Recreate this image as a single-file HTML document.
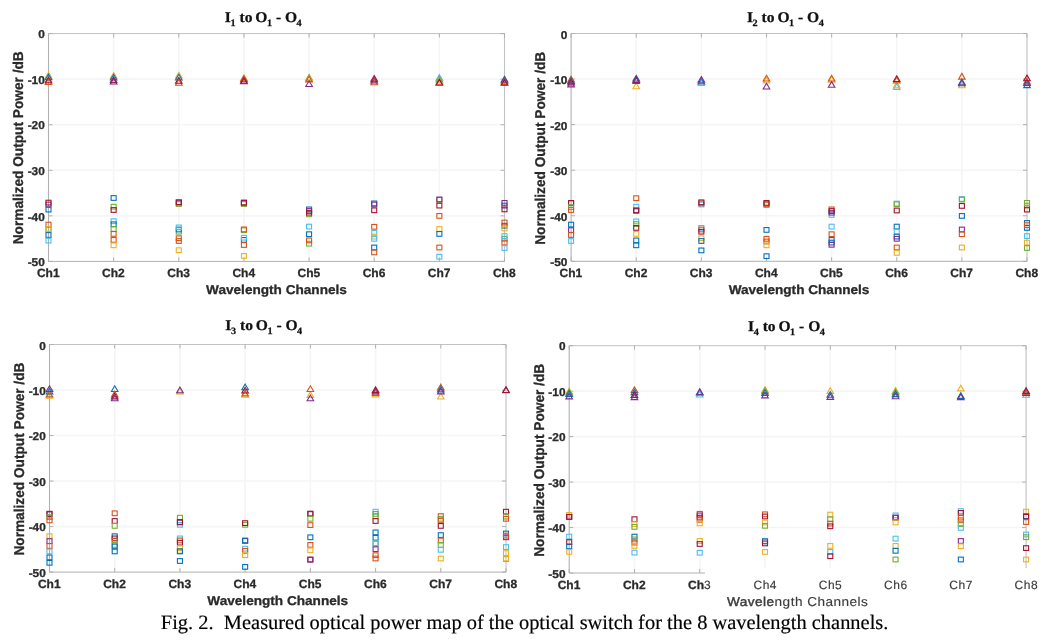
<!DOCTYPE html>
<html lang="en"><head><meta charset="utf-8"><title>Fig. 2</title>
<style>html,body{margin:0;padding:0;background:#fff;}body{width:1054px;height:643px;overflow:hidden;}svg{display:block;}.fig{filter:blur(0.45px);}text{text-rendering:geometricPrecision;}.s{font-family:"Liberation Sans",sans-serif;font-weight:bold;fill:#2a2a2a;stroke:#2a2a2a;stroke-width:0.3;}.n{font-family:"Liberation Sans",sans-serif;font-weight:normal;fill:#3c3c3c;stroke:#3c3c3c;stroke-width:0.15;}.t{font-family:"Liberation Serif",serif;font-weight:bold;fill:#111;stroke:#111;stroke-width:0.25;}.c{font-family:"Liberation Serif",serif;fill:#000;stroke:#000;stroke-width:0.18;}.m{fill:none;stroke-width:1.1;}</style></head><body>
<svg width="1054" height="643" viewBox="0 0 1054 643">
<rect width="1054" height="643" fill="#fff"/>
<g class="fig">
<g>
<path d="M48.5 33.6V261.4M113.64 33.6V261.4M178.79 33.6V261.4M243.93 33.6V261.4M309.07 33.6V261.4M374.21 33.6V261.4M439.36 33.6V261.4M504.5 33.6V261.4M48.5 79.16H504.5M48.5 124.72H504.5M48.5 170.28H504.5M48.5 215.84H504.5" stroke="#f5f5f5" stroke-width="1.6" fill="none"/>
<path d="M48.5 33.6H504.5V261.4" fill="none" stroke="#c2c2c2" stroke-width="1"/>
<path d="M48.5 33.6V261.4H504.5" fill="none" stroke="#b0b0b0" stroke-width="1"/>
<path d="M48.5 261.4v-4M48.5 33.6v4M113.64 261.4v-4M113.64 33.6v4M178.79 261.4v-4M178.79 33.6v4M243.93 261.4v-4M243.93 33.6v4M309.07 261.4v-4M309.07 33.6v4M374.21 261.4v-4M374.21 33.6v4M439.36 261.4v-4M439.36 33.6v4M504.5 261.4v-4M504.5 33.6v4M48.5 33.6h4M504.5 33.6h-4M48.5 79.16h4M504.5 79.16h-4M48.5 124.72h4M504.5 124.72h-4M48.5 170.28h4M504.5 170.28h-4M48.5 215.84h4M504.5 215.84h-4M48.5 261.4h4M504.5 261.4h-4" stroke="#b0b0b0" stroke-width="1" fill="none"/>
<text class="s" font-size="11.3" text-anchor="end" transform="translate(44.8 38) scale(1.05 1)">0</text>
<text class="s" font-size="11.3" text-anchor="end" transform="translate(44.8 84) scale(1.05 1)">-10</text>
<text class="s" font-size="11.3" text-anchor="end" transform="translate(44.8 129) scale(1.05 1)">-20</text>
<text class="s" font-size="11.3" text-anchor="end" transform="translate(44.8 175) scale(1.05 1)">-30</text>
<text class="s" font-size="11.3" text-anchor="end" transform="translate(44.8 221) scale(1.05 1)">-40</text>
<text class="s" font-size="11.3" text-anchor="end" transform="translate(44.8 266) scale(1.05 1)">-50</text>
<text class="s" x="48.3" y="277" font-size="12" text-anchor="middle">Ch1</text>
<text class="s" x="113.44" y="277" font-size="12" text-anchor="middle">Ch2</text>
<text class="s" x="178.59" y="277" font-size="12" text-anchor="middle">Ch3</text>
<text class="s" x="243.73" y="277" font-size="12" text-anchor="middle">Ch4</text>
<text class="s" x="308.87" y="277" font-size="12" text-anchor="middle">Ch5</text>
<text class="s" x="374.01" y="277" font-size="12" text-anchor="middle">Ch6</text>
<text class="s" x="439.16" y="277" font-size="12" text-anchor="middle">Ch7</text>
<text class="s" x="504.3" y="277" font-size="12" text-anchor="middle">Ch8</text>
<text class="s" font-size="12.8" text-anchor="middle" transform="translate(276.5 294) scale(1.0625 1)">Wavelength Channels</text>
<text class="s" font-size="14.2" text-anchor="middle" transform="translate(23 147.8) rotate(-90) scale(0.964 1)">Normalized Output Power /dB</text>
<text class="t" font-size="14.8" transform="translate(224.8 22) scale(1.054 1)">I<tspan font-size="9.7" dy="3.5" dx="-0.4">1</tspan><tspan dy="-3.5"> to</tspan><tspan dx="-1"> O</tspan><tspan font-size="9.7" dy="3.5" dx="-0.5">1</tspan><tspan dy="-3.5"> - O</tspan><tspan font-size="9.7" dy="3.5" dx="-0.5">4</tspan></text>
<rect class="m" x="46" y="202.15" width="5" height="4.7" stroke="#7E2F8E"/>
<rect class="m" x="46" y="200.25" width="5" height="4.7" stroke="#A2142F"/>
<rect class="m" x="46" y="207.25" width="5" height="4.7" stroke="#0072BD"/>
<rect class="m" x="46" y="222.25" width="5" height="4.7" stroke="#D95319"/>
<rect class="m" x="46" y="227.15" width="5" height="4.7" stroke="#77AC30"/>
<rect class="m" x="46" y="226.65" width="5" height="4.7" stroke="#EDB120"/>
<rect class="m" x="46" y="232.65" width="5" height="4.7" stroke="#0072BD"/>
<rect class="m" x="46" y="238.25" width="5" height="4.7" stroke="#4DBEEE"/>
<rect class="m" x="111.14" y="195.65" width="5" height="4.7" stroke="#0072BD"/>
<rect class="m" x="111.14" y="204.35" width="5" height="4.7" stroke="#77AC30"/>
<rect class="m" x="111.14" y="207.65" width="5" height="4.7" stroke="#A2142F"/>
<rect class="m" x="111.14" y="218.85" width="5" height="4.7" stroke="#4DBEEE"/>
<rect class="m" x="111.14" y="221.95" width="5" height="4.7" stroke="#0072BD"/>
<rect class="m" x="111.14" y="226.65" width="5" height="4.7" stroke="#77AC30"/>
<rect class="m" x="111.14" y="231.55" width="5" height="4.7" stroke="#D95319"/>
<rect class="m" x="111.14" y="237.55" width="5" height="4.7" stroke="#D95319"/>
<rect class="m" x="111.14" y="242.95" width="5" height="4.7" stroke="#EDB120"/>
<rect class="m" x="176.29" y="201.65" width="5" height="4.7" stroke="#77AC30"/>
<rect class="m" x="176.29" y="200.25" width="5" height="4.7" stroke="#7E2F8E"/>
<rect class="m" x="176.29" y="199.85" width="5" height="4.7" stroke="#A2142F"/>
<rect class="m" x="176.29" y="229.35" width="5" height="4.7" stroke="#77AC30"/>
<rect class="m" x="176.29" y="227.15" width="5" height="4.7" stroke="#0072BD"/>
<rect class="m" x="176.29" y="225.05" width="5" height="4.7" stroke="#4DBEEE"/>
<rect class="m" x="176.29" y="235.85" width="5" height="4.7" stroke="#D95319"/>
<rect class="m" x="176.29" y="238.65" width="5" height="4.7" stroke="#D95319"/>
<rect class="m" x="176.29" y="247.85" width="5" height="4.7" stroke="#EDB120"/>
<rect class="m" x="241.43" y="201.65" width="5" height="4.7" stroke="#77AC30"/>
<rect class="m" x="241.43" y="200.55" width="5" height="4.7" stroke="#7E2F8E"/>
<rect class="m" x="241.43" y="200.15" width="5" height="4.7" stroke="#A2142F"/>
<rect class="m" x="241.43" y="227.85" width="5" height="4.7" stroke="#77AC30"/>
<rect class="m" x="241.43" y="227.05" width="5" height="4.7" stroke="#D95319"/>
<rect class="m" x="241.43" y="237.55" width="5" height="4.7" stroke="#0072BD"/>
<rect class="m" x="241.43" y="235.35" width="5" height="4.7" stroke="#4DBEEE"/>
<rect class="m" x="241.43" y="242.65" width="5" height="4.7" stroke="#D95319"/>
<rect class="m" x="241.43" y="253.55" width="5" height="4.7" stroke="#EDB120"/>
<rect class="m" x="306.57" y="211.95" width="5" height="4.7" stroke="#77AC30"/>
<rect class="m" x="306.57" y="207.05" width="5" height="4.7" stroke="#0072BD"/>
<rect class="m" x="306.57" y="208.65" width="5" height="4.7" stroke="#7E2F8E"/>
<rect class="m" x="306.57" y="210.35" width="5" height="4.7" stroke="#A2142F"/>
<rect class="m" x="306.57" y="224.25" width="5" height="4.7" stroke="#4DBEEE"/>
<rect class="m" x="306.57" y="231.85" width="5" height="4.7" stroke="#0072BD"/>
<rect class="m" x="306.57" y="241.35" width="5" height="4.7" stroke="#77AC30"/>
<rect class="m" x="306.57" y="238.05" width="5" height="4.7" stroke="#D95319"/>
<rect class="m" x="371.71" y="201.05" width="5" height="4.7" stroke="#0072BD"/>
<rect class="m" x="371.71" y="202.15" width="5" height="4.7" stroke="#7E2F8E"/>
<rect class="m" x="371.71" y="207.95" width="5" height="4.7" stroke="#A2142F"/>
<rect class="m" x="371.71" y="224.45" width="5" height="4.7" stroke="#D95319"/>
<rect class="m" x="371.71" y="230.45" width="5" height="4.7" stroke="#4DBEEE"/>
<rect class="m" x="371.71" y="234.25" width="5" height="4.7" stroke="#EDB120"/>
<rect class="m" x="371.71" y="236.45" width="5" height="4.7" stroke="#4DBEEE"/>
<rect class="m" x="371.71" y="245.15" width="5" height="4.7" stroke="#0072BD"/>
<rect class="m" x="371.71" y="250.05" width="5" height="4.7" stroke="#D95319"/>
<rect class="m" x="436.86" y="197.55" width="5" height="4.7" stroke="#77AC30"/>
<rect class="m" x="436.86" y="197.05" width="5" height="4.7" stroke="#7E2F8E"/>
<rect class="m" x="436.86" y="203.25" width="5" height="4.7" stroke="#A2142F"/>
<rect class="m" x="436.86" y="213.55" width="5" height="4.7" stroke="#D95319"/>
<rect class="m" x="436.86" y="226.65" width="5" height="4.7" stroke="#EDB120"/>
<rect class="m" x="436.86" y="231.55" width="5" height="4.7" stroke="#0072BD"/>
<rect class="m" x="436.86" y="245.15" width="5" height="4.7" stroke="#D95319"/>
<rect class="m" x="436.86" y="254.35" width="5" height="4.7" stroke="#4DBEEE"/>
<rect class="m" x="502" y="203.25" width="5" height="4.7" stroke="#0072BD"/>
<rect class="m" x="502" y="200.55" width="5" height="4.7" stroke="#7E2F8E"/>
<rect class="m" x="502" y="207.05" width="5" height="4.7" stroke="#A2142F"/>
<rect class="m" x="502" y="223.35" width="5" height="4.7" stroke="#0072BD"/>
<rect class="m" x="502" y="226.15" width="5" height="4.7" stroke="#EDB120"/>
<rect class="m" x="502" y="220.15" width="5" height="4.7" stroke="#D95319"/>
<rect class="m" x="502" y="236.45" width="5" height="4.7" stroke="#77AC30"/>
<rect class="m" x="502" y="233.75" width="5" height="4.7" stroke="#4DBEEE"/>
<rect class="m" x="502" y="240.25" width="5" height="4.7" stroke="#D95319"/>
<rect class="m" x="502" y="245.65" width="5" height="4.7" stroke="#4DBEEE"/>
<path class="m" d="M48.5 72.3L51.8 78H45.2Z" stroke="#EDB120"/>
<path class="m" d="M48.5 74.1L51.8 79.8H45.2Z" stroke="#0072BD"/>
<path class="m" d="M48.5 78.7L51.8 84.4H45.2Z" stroke="#D95319"/>
<path class="m" d="M48.5 77L51.8 82.7H45.2Z" stroke="#A2142F"/>
<path class="m" d="M113.64 72.5L116.94 78.2H110.34Z" stroke="#EDB120"/>
<path class="m" d="M113.64 74.3L116.94 80H110.34Z" stroke="#0072BD"/>
<path class="m" d="M113.64 76.7L116.94 82.4H110.34Z" stroke="#7E2F8E"/>
<path class="m" d="M113.64 78.3L116.94 84H110.34Z" stroke="#A2142F"/>
<path class="m" d="M178.79 72.3L182.09 78H175.49Z" stroke="#EDB120"/>
<path class="m" d="M178.79 74.3L182.09 80H175.49Z" stroke="#0072BD"/>
<path class="m" d="M178.79 79.5L182.09 85.2H175.49Z" stroke="#D95319"/>
<path class="m" d="M178.79 77.5L182.09 83.2H175.49Z" stroke="#A2142F"/>
<path class="m" d="M243.93 74.8L247.23 80.5H240.63Z" stroke="#EDB120"/>
<path class="m" d="M243.93 75.7L247.23 81.4H240.63Z" stroke="#D95319"/>
<path class="m" d="M243.93 77.3L247.23 83H240.63Z" stroke="#7E2F8E"/>
<path class="m" d="M243.93 78.1L247.23 83.8H240.63Z" stroke="#A2142F"/>
<path class="m" d="M309.07 74.4L312.37 80.1H305.77Z" stroke="#77AC30"/>
<path class="m" d="M309.07 75.4L312.37 81.1H305.77Z" stroke="#EDB120"/>
<path class="m" d="M309.07 76.2L312.37 81.9H305.77Z" stroke="#D95319"/>
<path class="m" d="M309.07 80.8L312.37 86.5H305.77Z" stroke="#7E2F8E"/>
<path class="m" d="M374.21 79.1L377.51 84.8H370.91Z" stroke="#D95319"/>
<path class="m" d="M374.21 77.2L377.51 82.9H370.91Z" stroke="#7E2F8E"/>
<path class="m" d="M374.21 75.5L377.51 81.2H370.91Z" stroke="#A2142F"/>
<path class="m" d="M439.36 74.6L442.66 80.3H436.06Z" stroke="#4DBEEE"/>
<path class="m" d="M439.36 76.3L442.66 82H436.06Z" stroke="#77AC30"/>
<path class="m" d="M439.36 78.5L442.66 84.2H436.06Z" stroke="#D95319"/>
<path class="m" d="M439.36 79.6L442.66 85.3H436.06Z" stroke="#A2142F"/>
<path class="m" d="M504.5 76.3L507.8 82H501.2Z" stroke="#0072BD"/>
<path class="m" d="M504.5 77.3L507.8 83H501.2Z" stroke="#7E2F8E"/>
<path class="m" d="M504.5 78.9L507.8 84.6H501.2Z" stroke="#D95319"/>
<path class="m" d="M504.5 79.6L507.8 85.3H501.2Z" stroke="#A2142F"/>
</g>
<g>
<path d="M571.1 33.5V261.3M636.23 33.5V261.3M701.36 33.5V261.3M766.49 33.5V261.3M831.61 33.5V261.3M896.74 33.5V261.3M961.87 33.5V261.3M1027 33.5V261.3M571.1 79.06H1027M571.1 124.62H1027M571.1 170.18H1027M571.1 215.74H1027" stroke="#f5f5f5" stroke-width="1.6" fill="none"/>
<path d="M571.1 33.5H1027V261.3" fill="none" stroke="#c2c2c2" stroke-width="1"/>
<path d="M571.1 33.5V261.3H1027" fill="none" stroke="#b0b0b0" stroke-width="1"/>
<path d="M571.1 261.3v-4M571.1 33.5v4M636.23 261.3v-4M636.23 33.5v4M701.36 261.3v-4M701.36 33.5v4M766.49 261.3v-4M766.49 33.5v4M831.61 261.3v-4M831.61 33.5v4M896.74 261.3v-4M896.74 33.5v4M961.87 261.3v-4M961.87 33.5v4M1027 261.3v-4M1027 33.5v4M571.1 33.5h4M1027 33.5h-4M571.1 79.06h4M1027 79.06h-4M571.1 124.62h4M1027 124.62h-4M571.1 170.18h4M1027 170.18h-4M571.1 215.74h4M1027 215.74h-4M571.1 261.3h4M1027 261.3h-4" stroke="#b0b0b0" stroke-width="1" fill="none"/>
<text class="s" font-size="11.3" text-anchor="end" transform="translate(567.4 39) scale(1.05 1)">0</text>
<text class="s" font-size="11.3" text-anchor="end" transform="translate(567.4 84) scale(1.05 1)">-10</text>
<text class="s" font-size="11.3" text-anchor="end" transform="translate(567.4 130) scale(1.05 1)">-20</text>
<text class="s" font-size="11.3" text-anchor="end" transform="translate(567.4 175) scale(1.05 1)">-30</text>
<text class="s" font-size="11.3" text-anchor="end" transform="translate(567.4 221) scale(1.05 1)">-40</text>
<text class="s" font-size="11.3" text-anchor="end" transform="translate(567.4 266) scale(1.05 1)">-50</text>
<text class="s" x="570.9" y="277" font-size="12" text-anchor="middle">Ch1</text>
<text class="s" x="636.03" y="277" font-size="12" text-anchor="middle">Ch2</text>
<text class="s" x="701.16" y="277" font-size="12" text-anchor="middle">Ch3</text>
<text class="s" x="766.29" y="277" font-size="12" text-anchor="middle">Ch4</text>
<text class="s" x="831.41" y="277" font-size="12" text-anchor="middle">Ch5</text>
<text class="s" x="896.54" y="277" font-size="12" text-anchor="middle">Ch6</text>
<text class="s" x="961.67" y="277" font-size="12" text-anchor="middle">Ch7</text>
<text class="s" x="1026.8" y="277" font-size="12" text-anchor="middle">Ch8</text>
<text class="s" font-size="12.8" text-anchor="middle" transform="translate(799.05 294) scale(1.0625 1)">Wavelength Channels</text>
<text class="s" font-size="14.2" text-anchor="middle" transform="translate(545 148.3) rotate(-90) scale(0.964 1)">Normalized Output Power /dB</text>
<text class="t" font-size="14.8" transform="translate(746.9 22) scale(1.054 1)">I<tspan font-size="9.7" dy="3.5" dx="-0.4">2</tspan><tspan dy="-3.5"> to</tspan><tspan dx="-1"> O</tspan><tspan font-size="9.7" dy="3.5" dx="-0.5">1</tspan><tspan dy="-3.5"> - O</tspan><tspan font-size="9.7" dy="3.5" dx="-0.5">4</tspan></text>
<rect class="m" x="568.6" y="201.05" width="5" height="4.7" stroke="#4DBEEE"/>
<rect class="m" x="568.6" y="200.55" width="5" height="4.7" stroke="#A2142F"/>
<rect class="m" x="568.6" y="204.85" width="5" height="4.7" stroke="#77AC30"/>
<rect class="m" x="568.6" y="207.65" width="5" height="4.7" stroke="#D95319"/>
<rect class="m" x="568.6" y="222.25" width="5" height="4.7" stroke="#0072BD"/>
<rect class="m" x="568.6" y="227.75" width="5" height="4.7" stroke="#7E2F8E"/>
<rect class="m" x="568.6" y="232.65" width="5" height="4.7" stroke="#D95319"/>
<rect class="m" x="568.6" y="238.65" width="5" height="4.7" stroke="#4DBEEE"/>
<rect class="m" x="633.73" y="195.85" width="5" height="4.7" stroke="#D95319"/>
<rect class="m" x="633.73" y="204.35" width="5" height="4.7" stroke="#4DBEEE"/>
<rect class="m" x="633.73" y="208.45" width="5" height="4.7" stroke="#7E2F8E"/>
<rect class="m" x="633.73" y="207.95" width="5" height="4.7" stroke="#A2142F"/>
<rect class="m" x="633.73" y="219.05" width="5" height="4.7" stroke="#4DBEEE"/>
<rect class="m" x="633.73" y="221.75" width="5" height="4.7" stroke="#77AC30"/>
<rect class="m" x="633.73" y="225.55" width="5" height="4.7" stroke="#A2142F"/>
<rect class="m" x="633.73" y="231.55" width="5" height="4.7" stroke="#EDB120"/>
<rect class="m" x="633.73" y="238.05" width="5" height="4.7" stroke="#0072BD"/>
<rect class="m" x="633.73" y="242.95" width="5" height="4.7" stroke="#0072BD"/>
<rect class="m" x="698.86" y="202.15" width="5" height="4.7" stroke="#4DBEEE"/>
<rect class="m" x="698.86" y="201.05" width="5" height="4.7" stroke="#D95319"/>
<rect class="m" x="698.86" y="199.95" width="5" height="4.7" stroke="#A2142F"/>
<rect class="m" x="698.86" y="225.55" width="5" height="4.7" stroke="#4DBEEE"/>
<rect class="m" x="698.86" y="227.15" width="5" height="4.7" stroke="#D95319"/>
<rect class="m" x="698.86" y="229.35" width="5" height="4.7" stroke="#A2142F"/>
<rect class="m" x="698.86" y="235.85" width="5" height="4.7" stroke="#EDB120"/>
<rect class="m" x="698.86" y="238.65" width="5" height="4.7" stroke="#0072BD"/>
<rect class="m" x="698.86" y="248.05" width="5" height="4.7" stroke="#0072BD"/>
<rect class="m" x="763.99" y="202.65" width="5" height="4.7" stroke="#77AC30"/>
<rect class="m" x="763.99" y="201.65" width="5" height="4.7" stroke="#D95319"/>
<rect class="m" x="763.99" y="200.55" width="5" height="4.7" stroke="#A2142F"/>
<rect class="m" x="763.99" y="227.55" width="5" height="4.7" stroke="#0072BD"/>
<rect class="m" x="763.99" y="236.45" width="5" height="4.7" stroke="#D95319"/>
<rect class="m" x="763.99" y="239.15" width="5" height="4.7" stroke="#D95319"/>
<rect class="m" x="763.99" y="242.95" width="5" height="4.7" stroke="#EDB120"/>
<rect class="m" x="763.99" y="253.85" width="5" height="4.7" stroke="#0072BD"/>
<rect class="m" x="829.11" y="212.55" width="5" height="4.7" stroke="#4DBEEE"/>
<rect class="m" x="829.11" y="207.05" width="5" height="4.7" stroke="#D95319"/>
<rect class="m" x="829.11" y="210.35" width="5" height="4.7" stroke="#7E2F8E"/>
<rect class="m" x="829.11" y="208.65" width="5" height="4.7" stroke="#A2142F"/>
<rect class="m" x="829.11" y="224.25" width="5" height="4.7" stroke="#4DBEEE"/>
<rect class="m" x="829.11" y="231.85" width="5" height="4.7" stroke="#D95319"/>
<rect class="m" x="829.11" y="237.55" width="5" height="4.7" stroke="#0072BD"/>
<rect class="m" x="829.11" y="240.25" width="5" height="4.7" stroke="#0072BD"/>
<rect class="m" x="829.11" y="242.45" width="5" height="4.7" stroke="#7E2F8E"/>
<rect class="m" x="894.24" y="201.25" width="5" height="4.7" stroke="#4DBEEE"/>
<rect class="m" x="894.24" y="201.85" width="5" height="4.7" stroke="#77AC30"/>
<rect class="m" x="894.24" y="208.15" width="5" height="4.7" stroke="#A2142F"/>
<rect class="m" x="894.24" y="224.25" width="5" height="4.7" stroke="#0072BD"/>
<rect class="m" x="894.24" y="229.35" width="5" height="4.7" stroke="#4DBEEE"/>
<rect class="m" x="894.24" y="234.25" width="5" height="4.7" stroke="#0072BD"/>
<rect class="m" x="894.24" y="236.45" width="5" height="4.7" stroke="#7E2F8E"/>
<rect class="m" x="894.24" y="245.15" width="5" height="4.7" stroke="#D95319"/>
<rect class="m" x="894.24" y="250.55" width="5" height="4.7" stroke="#EDB120"/>
<rect class="m" x="959.37" y="196.65" width="5" height="4.7" stroke="#4DBEEE"/>
<rect class="m" x="959.37" y="197.25" width="5" height="4.7" stroke="#77AC30"/>
<rect class="m" x="959.37" y="203.55" width="5" height="4.7" stroke="#A2142F"/>
<rect class="m" x="959.37" y="213.55" width="5" height="4.7" stroke="#0072BD"/>
<rect class="m" x="959.37" y="227.15" width="5" height="4.7" stroke="#7E2F8E"/>
<rect class="m" x="959.37" y="231.85" width="5" height="4.7" stroke="#D95319"/>
<rect class="m" x="959.37" y="245.15" width="5" height="4.7" stroke="#EDB120"/>
<rect class="m" x="1024.5" y="200.55" width="5" height="4.7" stroke="#77AC30"/>
<rect class="m" x="1024.5" y="203.25" width="5" height="4.7" stroke="#77AC30"/>
<rect class="m" x="1024.5" y="207.25" width="5" height="4.7" stroke="#A2142F"/>
<rect class="m" x="1024.5" y="220.65" width="5" height="4.7" stroke="#0072BD"/>
<rect class="m" x="1024.5" y="225.55" width="5" height="4.7" stroke="#0072BD"/>
<rect class="m" x="1024.5" y="222.85" width="5" height="4.7" stroke="#D95319"/>
<rect class="m" x="1024.5" y="233.75" width="5" height="4.7" stroke="#4DBEEE"/>
<rect class="m" x="1024.5" y="240.25" width="5" height="4.7" stroke="#EDB120"/>
<rect class="m" x="1024.5" y="245.65" width="5" height="4.7" stroke="#77AC30"/>
<path class="m" d="M571.1 76.2L574.4 81.9H567.8Z" stroke="#D95319"/>
<path class="m" d="M571.1 77.7L574.4 83.4H567.8Z" stroke="#0072BD"/>
<path class="m" d="M571.1 79.2L574.4 84.9H567.8Z" stroke="#A2142F"/>
<path class="m" d="M571.1 81.2L574.4 86.9H567.8Z" stroke="#7E2F8E"/>
<path class="m" d="M636.23 83L639.53 88.7H632.93Z" stroke="#EDB120"/>
<path class="m" d="M636.23 75.3L639.53 81H632.93Z" stroke="#0072BD"/>
<path class="m" d="M636.23 76.7L639.53 82.4H632.93Z" stroke="#A2142F"/>
<path class="m" d="M636.23 77.7L639.53 83.4H632.93Z" stroke="#7E2F8E"/>
<path class="m" d="M701.36 79.8L704.66 85.5H698.06Z" stroke="#4DBEEE"/>
<path class="m" d="M701.36 78.2L704.66 83.9H698.06Z" stroke="#0072BD"/>
<path class="m" d="M701.36 76.5L704.66 82.2H698.06Z" stroke="#7E2F8E"/>
<path class="m" d="M766.49 77.2L769.79 82.9H763.19Z" stroke="#EDB120"/>
<path class="m" d="M766.49 75.3L769.79 81H763.19Z" stroke="#D95319"/>
<path class="m" d="M766.49 83.3L769.79 89H763.19Z" stroke="#7E2F8E"/>
<path class="m" d="M831.61 76.5L834.91 82.2H828.31Z" stroke="#EDB120"/>
<path class="m" d="M831.61 75.3L834.91 81H828.31Z" stroke="#D95319"/>
<path class="m" d="M831.61 81.6L834.91 87.3H828.31Z" stroke="#7E2F8E"/>
<path class="m" d="M896.74 83.7L900.04 89.4H893.44Z" stroke="#4DBEEE"/>
<path class="m" d="M896.74 82.1L900.04 87.8H893.44Z" stroke="#EDB120"/>
<path class="m" d="M896.74 77.2L900.04 82.9H893.44Z" stroke="#D95319"/>
<path class="m" d="M896.74 75.8L900.04 81.5H893.44Z" stroke="#A2142F"/>
<path class="m" d="M961.87 82.1L965.17 87.8H958.57Z" stroke="#EDB120"/>
<path class="m" d="M961.87 73.4L965.17 79.1H958.57Z" stroke="#D95319"/>
<path class="m" d="M961.87 79L965.17 84.7H958.57Z" stroke="#0072BD"/>
<path class="m" d="M961.87 80L965.17 85.7H958.57Z" stroke="#7E2F8E"/>
<path class="m" d="M1027 81.9L1030.3 87.6H1023.7Z" stroke="#0072BD"/>
<path class="m" d="M1027 78.2L1030.3 83.9H1023.7Z" stroke="#D95319"/>
<path class="m" d="M1027 79.7L1030.3 85.4H1023.7Z" stroke="#7E2F8E"/>
<path class="m" d="M1027 75.1L1030.3 80.8H1023.7Z" stroke="#A2142F"/>
</g>
<g>
<path d="M49.5 344.5V572.1M114.71 344.5V572.1M179.93 344.5V572.1M245.14 344.5V572.1M310.36 344.5V572.1M375.57 344.5V572.1M440.79 344.5V572.1M506 344.5V572.1M49.5 390.02H506M49.5 435.54H506M49.5 481.06H506M49.5 526.58H506" stroke="#f5f5f5" stroke-width="1.6" fill="none"/>
<path d="M49.5 344.5H506V572.1" fill="none" stroke="#c2c2c2" stroke-width="1"/>
<path d="M49.5 344.5V572.1H506" fill="none" stroke="#b0b0b0" stroke-width="1"/>
<path d="M49.5 572.1v-4M49.5 344.5v4M114.71 572.1v-4M114.71 344.5v4M179.93 572.1v-4M179.93 344.5v4M245.14 572.1v-4M245.14 344.5v4M310.36 572.1v-4M310.36 344.5v4M375.57 572.1v-4M375.57 344.5v4M440.79 572.1v-4M440.79 344.5v4M506 572.1v-4M506 344.5v4M49.5 344.5h4M506 344.5h-4M49.5 390.02h4M506 390.02h-4M49.5 435.54h4M506 435.54h-4M49.5 481.06h4M506 481.06h-4M49.5 526.58h4M506 526.58h-4M49.5 572.1h4M506 572.1h-4" stroke="#b0b0b0" stroke-width="1" fill="none"/>
<text class="s" font-size="11.3" text-anchor="end" transform="translate(45.8 350) scale(1.05 1)">0</text>
<text class="s" font-size="11.3" text-anchor="end" transform="translate(45.8 395) scale(1.05 1)">-10</text>
<text class="s" font-size="11.3" text-anchor="end" transform="translate(45.8 440) scale(1.05 1)">-20</text>
<text class="s" font-size="11.3" text-anchor="end" transform="translate(45.8 486) scale(1.05 1)">-30</text>
<text class="s" font-size="11.3" text-anchor="end" transform="translate(45.8 531) scale(1.05 1)">-40</text>
<text class="s" font-size="11.3" text-anchor="end" transform="translate(45.8 577) scale(1.05 1)">-50</text>
<text class="s" x="49.3" y="588" font-size="12" text-anchor="middle">Ch1</text>
<text class="s" x="114.51" y="588" font-size="12" text-anchor="middle">Ch2</text>
<text class="s" x="179.73" y="588" font-size="12" text-anchor="middle">Ch3</text>
<text class="s" x="244.94" y="588" font-size="12" text-anchor="middle">Ch4</text>
<text class="s" x="310.16" y="588" font-size="12" text-anchor="middle">Ch5</text>
<text class="s" x="375.37" y="588" font-size="12" text-anchor="middle">Ch6</text>
<text class="s" x="440.59" y="588" font-size="12" text-anchor="middle">Ch7</text>
<text class="s" x="505.8" y="588" font-size="12" text-anchor="middle">Ch8</text>
<text class="s" font-size="12.8" text-anchor="middle" transform="translate(277.75 605) scale(1.0625 1)">Wavelength Channels</text>
<text class="s" font-size="14.2" text-anchor="middle" transform="translate(23.7 459.1) rotate(-90) scale(0.964 1)">Normalized Output Power /dB</text>
<text class="t" font-size="14.8" transform="translate(225.3 330) scale(1.054 1)">I<tspan font-size="9.7" dy="3.5" dx="-0.4">3</tspan><tspan dy="-3.5"> to</tspan><tspan dx="-1"> O</tspan><tspan font-size="9.7" dy="3.5" dx="-0.5">1</tspan><tspan dy="-3.5"> - O</tspan><tspan font-size="9.7" dy="3.5" dx="-0.5">4</tspan></text>
<rect class="m" x="47" y="511.85" width="5" height="4.7" stroke="#7E2F8E"/>
<rect class="m" x="47" y="511.35" width="5" height="4.7" stroke="#A2142F"/>
<rect class="m" x="47" y="514.75" width="5" height="4.7" stroke="#77AC30"/>
<rect class="m" x="47" y="518.05" width="5" height="4.7" stroke="#D95319"/>
<rect class="m" x="47" y="533.85" width="5" height="4.7" stroke="#EDB120"/>
<rect class="m" x="47" y="538.75" width="5" height="4.7" stroke="#7E2F8E"/>
<rect class="m" x="47" y="543.65" width="5" height="4.7" stroke="#D95319"/>
<rect class="m" x="47" y="549.05" width="5" height="4.7" stroke="#4DBEEE"/>
<rect class="m" x="47" y="555.05" width="5" height="4.7" stroke="#0072BD"/>
<rect class="m" x="47" y="560.45" width="5" height="4.7" stroke="#0072BD"/>
<rect class="m" x="112.21" y="510.95" width="5" height="4.7" stroke="#D95319"/>
<rect class="m" x="112.21" y="518.65" width="5" height="4.7" stroke="#A2142F"/>
<rect class="m" x="112.21" y="523.55" width="5" height="4.7" stroke="#77AC30"/>
<rect class="m" x="112.21" y="533.85" width="5" height="4.7" stroke="#0072BD"/>
<rect class="m" x="112.21" y="536.05" width="5" height="4.7" stroke="#A2142F"/>
<rect class="m" x="112.21" y="538.15" width="5" height="4.7" stroke="#D95319"/>
<rect class="m" x="112.21" y="542.55" width="5" height="4.7" stroke="#77AC30"/>
<rect class="m" x="112.21" y="544.15" width="5" height="4.7" stroke="#0072BD"/>
<rect class="m" x="112.21" y="549.05" width="5" height="4.7" stroke="#0072BD"/>
<rect class="m" x="177.43" y="515.35" width="5" height="4.7" stroke="#77AC30"/>
<rect class="m" x="177.43" y="522.45" width="5" height="4.7" stroke="#4DBEEE"/>
<rect class="m" x="177.43" y="520.05" width="5" height="4.7" stroke="#7E2F8E"/>
<rect class="m" x="177.43" y="519.65" width="5" height="4.7" stroke="#A2142F"/>
<rect class="m" x="177.43" y="536.05" width="5" height="4.7" stroke="#4DBEEE"/>
<rect class="m" x="177.43" y="538.15" width="5" height="4.7" stroke="#D95319"/>
<rect class="m" x="177.43" y="540.35" width="5" height="4.7" stroke="#A2142F"/>
<rect class="m" x="177.43" y="545.85" width="5" height="4.7" stroke="#EDB120"/>
<rect class="m" x="177.43" y="548.65" width="5" height="4.7" stroke="#77AC30"/>
<rect class="m" x="177.43" y="549.05" width="5" height="4.7" stroke="#0072BD"/>
<rect class="m" x="177.43" y="558.65" width="5" height="4.7" stroke="#0072BD"/>
<rect class="m" x="242.64" y="522.45" width="5" height="4.7" stroke="#77AC30"/>
<rect class="m" x="242.64" y="520.75" width="5" height="4.7" stroke="#A2142F"/>
<rect class="m" x="242.64" y="538.55" width="5" height="4.7" stroke="#7E2F8E"/>
<rect class="m" x="242.64" y="538.15" width="5" height="4.7" stroke="#0072BD"/>
<rect class="m" x="242.64" y="546.35" width="5" height="4.7" stroke="#4DBEEE"/>
<rect class="m" x="242.64" y="548.55" width="5" height="4.7" stroke="#D95319"/>
<rect class="m" x="242.64" y="552.85" width="5" height="4.7" stroke="#EDB120"/>
<rect class="m" x="242.64" y="564.55" width="5" height="4.7" stroke="#0072BD"/>
<rect class="m" x="307.86" y="511.65" width="5" height="4.7" stroke="#7E2F8E"/>
<rect class="m" x="307.86" y="511.25" width="5" height="4.7" stroke="#A2142F"/>
<rect class="m" x="307.86" y="516.45" width="5" height="4.7" stroke="#77AC30"/>
<rect class="m" x="307.86" y="522.75" width="5" height="4.7" stroke="#D95319"/>
<rect class="m" x="307.86" y="534.95" width="5" height="4.7" stroke="#0072BD"/>
<rect class="m" x="307.86" y="542.55" width="5" height="4.7" stroke="#D95319"/>
<rect class="m" x="307.86" y="547.95" width="5" height="4.7" stroke="#EDB120"/>
<rect class="m" x="307.86" y="557.25" width="5" height="4.7" stroke="#A2142F"/>
<rect class="m" x="307.86" y="557.25" width="5" height="4.7" stroke="#7E2F8E"/>
<rect class="m" x="373.07" y="509.35" width="5" height="4.7" stroke="#4DBEEE"/>
<rect class="m" x="373.07" y="511.55" width="5" height="4.7" stroke="#77AC30"/>
<rect class="m" x="373.07" y="513.75" width="5" height="4.7" stroke="#77AC30"/>
<rect class="m" x="373.07" y="518.65" width="5" height="4.7" stroke="#A2142F"/>
<rect class="m" x="373.07" y="530.05" width="5" height="4.7" stroke="#0072BD"/>
<rect class="m" x="373.07" y="535.45" width="5" height="4.7" stroke="#0072BD"/>
<rect class="m" x="373.07" y="541.25" width="5" height="4.7" stroke="#77AC30"/>
<rect class="m" x="373.07" y="540.95" width="5" height="4.7" stroke="#4DBEEE"/>
<rect class="m" x="373.07" y="546.85" width="5" height="4.7" stroke="#7E2F8E"/>
<rect class="m" x="373.07" y="552.85" width="5" height="4.7" stroke="#D95319"/>
<rect class="m" x="373.07" y="556.15" width="5" height="4.7" stroke="#D95319"/>
<rect class="m" x="438.29" y="513.75" width="5" height="4.7" stroke="#D95319"/>
<rect class="m" x="438.29" y="516.45" width="5" height="4.7" stroke="#77AC30"/>
<rect class="m" x="438.29" y="518.05" width="5" height="4.7" stroke="#D95319"/>
<rect class="m" x="438.29" y="523.55" width="5" height="4.7" stroke="#A2142F"/>
<rect class="m" x="438.29" y="532.75" width="5" height="4.7" stroke="#0072BD"/>
<rect class="m" x="438.29" y="538.15" width="5" height="4.7" stroke="#D95319"/>
<rect class="m" x="438.29" y="542.55" width="5" height="4.7" stroke="#77AC30"/>
<rect class="m" x="438.29" y="547.45" width="5" height="4.7" stroke="#4DBEEE"/>
<rect class="m" x="438.29" y="556.15" width="5" height="4.7" stroke="#EDB120"/>
<rect class="m" x="503.5" y="509.35" width="5" height="4.7" stroke="#A2142F"/>
<rect class="m" x="503.5" y="514.25" width="5" height="4.7" stroke="#77AC30"/>
<rect class="m" x="503.5" y="516.45" width="5" height="4.7" stroke="#D95319"/>
<rect class="m" x="503.5" y="531.15" width="5" height="4.7" stroke="#0072BD"/>
<rect class="m" x="503.5" y="534.95" width="5" height="4.7" stroke="#7E2F8E"/>
<rect class="m" x="503.5" y="533.25" width="5" height="4.7" stroke="#D95319"/>
<rect class="m" x="503.5" y="544.75" width="5" height="4.7" stroke="#4DBEEE"/>
<rect class="m" x="503.5" y="550.75" width="5" height="4.7" stroke="#EDB120"/>
<rect class="m" x="503.5" y="556.65" width="5" height="4.7" stroke="#77AC30"/>
<rect class="m" x="503.5" y="556.25" width="5" height="4.7" stroke="#EDB120"/>
<path class="m" d="M49.5 392.6L52.8 398.3H46.2Z" stroke="#EDB120"/>
<path class="m" d="M49.5 391.2L52.8 396.9H46.2Z" stroke="#D95319"/>
<path class="m" d="M49.5 388.3L52.8 394H46.2Z" stroke="#0072BD"/>
<path class="m" d="M49.5 385.8L52.8 391.5H46.2Z" stroke="#7E2F8E"/>
<path class="m" d="M114.71 385.8L118.01 391.5H111.41Z" stroke="#0072BD"/>
<path class="m" d="M114.71 391.2L118.01 396.9H111.41Z" stroke="#D95319"/>
<path class="m" d="M114.71 393.2L118.01 398.9H111.41Z" stroke="#A2142F"/>
<path class="m" d="M114.71 395L118.01 400.7H111.41Z" stroke="#7E2F8E"/>
<path class="m" d="M179.93 388.2L183.23 393.9H176.63Z" stroke="#EDB120"/>
<path class="m" d="M179.93 387L183.23 392.7H176.63Z" stroke="#7E2F8E"/>
<path class="m" d="M245.14 391.5L248.44 397.2H241.84Z" stroke="#EDB120"/>
<path class="m" d="M245.14 390.2L248.44 395.9H241.84Z" stroke="#D95319"/>
<path class="m" d="M245.14 384L248.44 389.7H241.84Z" stroke="#0072BD"/>
<path class="m" d="M245.14 387.3L248.44 393H241.84Z" stroke="#A2142F"/>
<path class="m" d="M310.36 391.7L313.66 397.4H307.06Z" stroke="#EDB120"/>
<path class="m" d="M310.36 385.8L313.66 391.5H307.06Z" stroke="#D95319"/>
<path class="m" d="M310.36 395L313.66 400.7H307.06Z" stroke="#7E2F8E"/>
<path class="m" d="M375.57 391.2L378.87 396.9H372.27Z" stroke="#EDB120"/>
<path class="m" d="M375.57 389.7L378.87 395.4H372.27Z" stroke="#D95319"/>
<path class="m" d="M375.57 388.2L378.87 393.9H372.27Z" stroke="#7E2F8E"/>
<path class="m" d="M375.57 386.8L378.87 392.5H372.27Z" stroke="#A2142F"/>
<path class="m" d="M440.79 393.3L444.09 399H437.49Z" stroke="#EDB120"/>
<path class="m" d="M440.79 384.2L444.09 389.9H437.49Z" stroke="#D95319"/>
<path class="m" d="M440.79 386.2L444.09 391.9H437.49Z" stroke="#0072BD"/>
<path class="m" d="M440.79 388.2L444.09 393.9H437.49Z" stroke="#7E2F8E"/>
<path class="m" d="M506 387L509.3 392.7H502.7Z" stroke="#7E2F8E"/>
<path class="m" d="M506 386.8L509.3 392.5H502.7Z" stroke="#A2142F"/>
</g>
<g>
<path d="M569.2 345.7V573M634.47 345.7V573M699.74 345.7V573M765.01 345.7V568M830.29 345.7V568M895.56 345.7V568M960.83 345.7V568M1026.1 345.7V568M569.2 391.16H1026.1M569.2 436.62H1026.1M569.2 482.08H1026.1M569.2 527.54H1026.1" stroke="#f5f5f5" stroke-width="1.6" fill="none"/>
<path d="M569.2 345.7H1026.1V568" fill="none" stroke="#c2c2c2" stroke-width="1"/>
<path d="M705 573H569.2V345.7" fill="none" stroke="#b0b0b0" stroke-width="1"/>
<path d="M569.2 573v-4M569.2 345.7v4M634.47 573v-4M634.47 345.7v4M699.74 573v-4M699.74 345.7v4M765.01 345.7v4M830.29 345.7v4M895.56 345.7v4M960.83 345.7v4M1026.1 345.7v4M569.2 345.7h4M1026.1 345.7h-4M569.2 391.16h4M1026.1 391.16h-4M569.2 436.62h4M1026.1 436.62h-4M569.2 482.08h4M1026.1 482.08h-4M569.2 527.54h4M1026.1 527.54h-4M569.2 573h4" stroke="#b0b0b0" stroke-width="1" fill="none"/>
<text class="s" font-size="11.3" text-anchor="end" transform="translate(565.5 350) scale(1.05 1)">0</text>
<text class="s" font-size="11.3" text-anchor="end" transform="translate(565.5 396) scale(1.05 1)">-10</text>
<text class="s" font-size="11.3" text-anchor="end" transform="translate(565.5 441) scale(1.05 1)">-20</text>
<text class="s" font-size="11.3" text-anchor="end" transform="translate(565.5 487) scale(1.05 1)">-30</text>
<text class="s" font-size="11.3" text-anchor="end" transform="translate(565.5 532) scale(1.05 1)">-40</text>
<text class="s" font-size="11.3" text-anchor="end" transform="translate(565.5 578) scale(1.05 1)">-50</text>
<text class="s" x="569" y="589" font-size="12" text-anchor="middle">Ch1</text>
<text class="s" x="634.27" y="589" font-size="12" text-anchor="middle">Ch2</text>
<text class="s" x="699.44" y="589" font-size="12" text-anchor="middle">Ch<tspan class="n">3</tspan></text>
<text class="n" x="765.26" y="589" font-size="12" letter-spacing="0.5" text-anchor="middle">Ch4</text>
<text class="n" x="830.54" y="589" font-size="12" letter-spacing="0.5" text-anchor="middle">Ch5</text>
<text class="n" x="895.81" y="589" font-size="12" letter-spacing="0.5" text-anchor="middle">Ch6</text>
<text class="n" x="961.08" y="589" font-size="12" letter-spacing="0.5" text-anchor="middle">Ch7</text>
<text class="n" x="1026.35" y="589" font-size="12" letter-spacing="0.5" text-anchor="middle">Ch8</text>
<text class="n" font-size="12.8" letter-spacing="0.44" text-anchor="middle" transform="translate(797.65 606) scale(1.0625 1)"><tspan stroke="#3c3c3c" stroke-width="0.45">Wavele</tspan>ngth Channels</text>
<text class="s" font-size="14.2" text-anchor="middle" transform="translate(543.5 460.35) rotate(-90) scale(0.964 1)">Normalized Output Power /dB</text>
<text class="t" font-size="14.8" transform="translate(748 331) scale(1.054 1)">I<tspan font-size="9.7" dy="3.5" dx="-0.4">4</tspan><tspan dy="-3.5"> to</tspan><tspan dx="-1"> O</tspan><tspan font-size="9.7" dy="3.5" dx="-0.5">1</tspan><tspan dy="-3.5"> - O</tspan><tspan font-size="9.7" dy="3.5" dx="-0.5">4</tspan></text>
<rect class="m" x="566.7" y="512.55" width="5" height="4.7" stroke="#EDB120"/>
<rect class="m" x="566.7" y="514.65" width="5" height="4.7" stroke="#7E2F8E"/>
<rect class="m" x="566.7" y="514.45" width="5" height="4.7" stroke="#A2142F"/>
<rect class="m" x="566.7" y="534.25" width="5" height="4.7" stroke="#4DBEEE"/>
<rect class="m" x="566.7" y="539.75" width="5" height="4.7" stroke="#A2142F"/>
<rect class="m" x="566.7" y="544.05" width="5" height="4.7" stroke="#0072BD"/>
<rect class="m" x="566.7" y="549.55" width="5" height="4.7" stroke="#EDB120"/>
<rect class="m" x="631.97" y="516.85" width="5" height="4.7" stroke="#A2142F"/>
<rect class="m" x="631.97" y="521.75" width="5" height="4.7" stroke="#EDB120"/>
<rect class="m" x="631.97" y="524.55" width="5" height="4.7" stroke="#77AC30"/>
<rect class="m" x="631.97" y="534.25" width="5" height="4.7" stroke="#0072BD"/>
<rect class="m" x="631.97" y="537.05" width="5" height="4.7" stroke="#77AC30"/>
<rect class="m" x="631.97" y="540.25" width="5" height="4.7" stroke="#D95319"/>
<rect class="m" x="631.97" y="543.55" width="5" height="4.7" stroke="#EDB120"/>
<rect class="m" x="631.97" y="550.25" width="5" height="4.7" stroke="#4DBEEE"/>
<rect class="m" x="697.24" y="511.45" width="5" height="4.7" stroke="#D95319"/>
<rect class="m" x="697.24" y="513.05" width="5" height="4.7" stroke="#7E2F8E"/>
<rect class="m" x="697.24" y="515.25" width="5" height="4.7" stroke="#A2142F"/>
<rect class="m" x="697.24" y="517.45" width="5" height="4.7" stroke="#D95319"/>
<rect class="m" x="697.24" y="521.05" width="5" height="4.7" stroke="#EDB120"/>
<rect class="m" x="697.24" y="538.65" width="5" height="4.7" stroke="#EDB120"/>
<rect class="m" x="697.24" y="541.65" width="5" height="4.7" stroke="#A2142F"/>
<rect class="m" x="697.24" y="550.35" width="5" height="4.7" stroke="#4DBEEE"/>
<rect class="m" x="762.51" y="511.95" width="5" height="4.7" stroke="#D95319"/>
<rect class="m" x="762.51" y="514.15" width="5" height="4.7" stroke="#A2142F"/>
<rect class="m" x="762.51" y="520.15" width="5" height="4.7" stroke="#EDB120"/>
<rect class="m" x="762.51" y="523.45" width="5" height="4.7" stroke="#77AC30"/>
<rect class="m" x="762.51" y="538.65" width="5" height="4.7" stroke="#4DBEEE"/>
<rect class="m" x="762.51" y="539.05" width="5" height="4.7" stroke="#0072BD"/>
<rect class="m" x="762.51" y="541.05" width="5" height="4.7" stroke="#A2142F"/>
<rect class="m" x="762.51" y="549.55" width="5" height="4.7" stroke="#EDB120"/>
<rect class="m" x="827.79" y="512.25" width="5" height="4.7" stroke="#EDB120"/>
<rect class="m" x="827.79" y="516.85" width="5" height="4.7" stroke="#77AC30"/>
<rect class="m" x="827.79" y="521.25" width="5" height="4.7" stroke="#D95319"/>
<rect class="m" x="827.79" y="523.95" width="5" height="4.7" stroke="#A2142F"/>
<rect class="m" x="827.79" y="543.55" width="5" height="4.7" stroke="#EDB120"/>
<rect class="m" x="827.79" y="549.55" width="5" height="4.7" stroke="#4DBEEE"/>
<rect class="m" x="827.79" y="553.85" width="5" height="4.7" stroke="#A2142F"/>
<rect class="m" x="893.06" y="513.05" width="5" height="4.7" stroke="#4DBEEE"/>
<rect class="m" x="893.06" y="515.25" width="5" height="4.7" stroke="#A2142F"/>
<rect class="m" x="893.06" y="515.45" width="5" height="4.7" stroke="#7E2F8E"/>
<rect class="m" x="893.06" y="520.15" width="5" height="4.7" stroke="#EDB120"/>
<rect class="m" x="893.06" y="536.25" width="5" height="4.7" stroke="#4DBEEE"/>
<rect class="m" x="893.06" y="543.55" width="5" height="4.7" stroke="#EDB120"/>
<rect class="m" x="893.06" y="548.45" width="5" height="4.7" stroke="#0072BD"/>
<rect class="m" x="893.06" y="557.15" width="5" height="4.7" stroke="#77AC30"/>
<rect class="m" x="958.33" y="508.75" width="5" height="4.7" stroke="#4DBEEE"/>
<rect class="m" x="958.33" y="510.55" width="5" height="4.7" stroke="#A2142F"/>
<rect class="m" x="958.33" y="515.25" width="5" height="4.7" stroke="#D95319"/>
<rect class="m" x="958.33" y="517.95" width="5" height="4.7" stroke="#D95319"/>
<rect class="m" x="958.33" y="521.75" width="5" height="4.7" stroke="#77AC30"/>
<rect class="m" x="958.33" y="525.55" width="5" height="4.7" stroke="#4DBEEE"/>
<rect class="m" x="958.33" y="538.65" width="5" height="4.7" stroke="#7E2F8E"/>
<rect class="m" x="958.33" y="543.85" width="5" height="4.7" stroke="#EDB120"/>
<rect class="m" x="958.33" y="557.15" width="5" height="4.7" stroke="#0072BD"/>
<rect class="m" x="1023.6" y="509.25" width="5" height="4.7" stroke="#EDB120"/>
<rect class="m" x="1023.6" y="513.85" width="5" height="4.7" stroke="#0072BD"/>
<rect class="m" x="1023.6" y="514.45" width="5" height="4.7" stroke="#A2142F"/>
<rect class="m" x="1023.6" y="519.65" width="5" height="4.7" stroke="#D95319"/>
<rect class="m" x="1023.6" y="532.15" width="5" height="4.7" stroke="#4DBEEE"/>
<rect class="m" x="1023.6" y="534.85" width="5" height="4.7" stroke="#77AC30"/>
<rect class="m" x="1023.6" y="545.75" width="5" height="4.7" stroke="#A2142F"/>
<rect class="m" x="1023.6" y="557.15" width="5" height="4.7" stroke="#EDB120"/>
<path class="m" d="M569.2 388.2L572.5 393.9H565.9Z" stroke="#EDB120"/>
<path class="m" d="M569.2 389.2L572.5 394.9H565.9Z" stroke="#77AC30"/>
<path class="m" d="M569.2 390.7L572.5 396.4H565.9Z" stroke="#0072BD"/>
<path class="m" d="M569.2 393.2L572.5 398.9H565.9Z" stroke="#7E2F8E"/>
<path class="m" d="M634.47 386.8L637.77 392.5H631.17Z" stroke="#D95319"/>
<path class="m" d="M634.47 389.1L637.77 394.8H631.17Z" stroke="#0072BD"/>
<path class="m" d="M634.47 391.7L637.77 397.4H631.17Z" stroke="#A2142F"/>
<path class="m" d="M634.47 393.9L637.77 399.6H631.17Z" stroke="#7E2F8E"/>
<path class="m" d="M699.74 391.3L703.04 397H696.44Z" stroke="#4DBEEE"/>
<path class="m" d="M699.74 389.3L703.04 395H696.44Z" stroke="#0072BD"/>
<path class="m" d="M699.74 388.9L703.04 394.6H696.44Z" stroke="#7E2F8E"/>
<path class="m" d="M765.01 386.8L768.31 392.5H761.71Z" stroke="#EDB120"/>
<path class="m" d="M765.01 387.9L768.31 393.6H761.71Z" stroke="#77AC30"/>
<path class="m" d="M765.01 389.7L768.31 395.4H761.71Z" stroke="#0072BD"/>
<path class="m" d="M765.01 392.2L768.31 397.9H761.71Z" stroke="#7E2F8E"/>
<path class="m" d="M830.29 387.7L833.59 393.4H826.99Z" stroke="#EDB120"/>
<path class="m" d="M830.29 391.5L833.59 397.2H826.99Z" stroke="#0072BD"/>
<path class="m" d="M830.29 393.7L833.59 399.4H826.99Z" stroke="#7E2F8E"/>
<path class="m" d="M895.56 387.7L898.86 393.4H892.26Z" stroke="#EDB120"/>
<path class="m" d="M895.56 388.9L898.86 394.6H892.26Z" stroke="#77AC30"/>
<path class="m" d="M895.56 390.9L898.86 396.6H892.26Z" stroke="#0072BD"/>
<path class="m" d="M895.56 393L898.86 398.7H892.26Z" stroke="#7E2F8E"/>
<path class="m" d="M960.83 385.2L964.13 390.9H957.53Z" stroke="#EDB120"/>
<path class="m" d="M960.83 392.7L964.13 398.4H957.53Z" stroke="#0072BD"/>
<path class="m" d="M960.83 393.9L964.13 399.6H957.53Z" stroke="#7E2F8E"/>
<path class="m" d="M1026.1 391.6L1029.4 397.3H1022.8Z" stroke="#4DBEEE"/>
<path class="m" d="M1026.1 389.7L1029.4 395.4H1022.8Z" stroke="#7E2F8E"/>
<path class="m" d="M1026.1 388.7L1029.4 394.4H1022.8Z" stroke="#D95319"/>
<path class="m" d="M1026.1 387.7L1029.4 393.4H1022.8Z" stroke="#A2142F"/>
</g>
</g>
<text class="c" x="160.8" y="628.6" font-size="20.45" style="white-space:pre">Fig. 2.  Measured optical power map of the optical switch for the 8 wavelength channels.</text>
</svg></body></html>
